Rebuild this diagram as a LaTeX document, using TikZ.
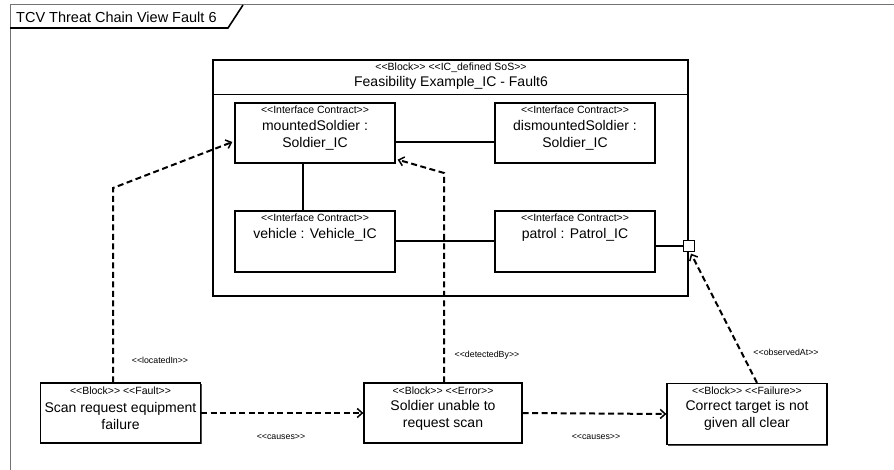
\documentclass[tikz,border=0pt]{standalone}
\usepackage{fontspec}
\setmainfont{Liberation Sans}[Ligatures=TeXOff]
\usetikzlibrary{arrows.meta,shadows}

\tikzset{
  box/.style={draw, line width=1.3pt, fill=white, inner sep=0pt,
    drop shadow={shadow xshift=1.4pt, shadow yshift=-1.4pt, fill=black!70, opacity=1}},
  stereo/.style={font=\fontsize{10.5}{12}\selectfont, inner sep=0pt},
  title/.style={font=\fontsize{14}{16}\selectfont, inner sep=0pt, align=center},
  rel/.style={font=\fontsize{8.8}{10}\selectfont, inner sep=0pt},
  wire/.style={line width=2pt},
  dep/.style={line width=2pt, dash pattern=on 6pt off 3.5pt,
    -{Straight Barb[length=5pt,width=9pt,line width=1.5pt]}},
  port/.style={draw, line width=1.2pt, fill=white, minimum size=11pt, inner sep=0pt},
}

\begin{document}
\begin{tikzpicture}[x=1pt,y=-1pt]
\useasboundingbox (0,0) rectangle (894,470);

% diagram frame and its name tab
\draw[line width=1pt, black!55] (10,470) -- (10,5) -- (894,5);
\draw[line width=1.6pt] (10,28) -- (228,28) -- (243,5);
\node[anchor=west, font=\fontsize{14.5}{16}\selectfont, inner sep=0pt] (frametitle) at (16,17) {TCV Threat Chain View Fault 6};

% the SoS block
\node[box, minimum width=475pt, minimum height=236pt] (sos) at (450.5,178) {};
\draw[line width=0.9pt] (sos.west |- 0,94.5) -- (sos.east |- 0,94.5);
\node[stereo] (sosst) at (451,68) {<<Block>> <<IC\_defined SoS>>};
\node[title] (sosname) at (451,83) {Feasibility Example\_IC - Fault6};

% interface contracts
\node[box, minimum width=160pt, minimum height=60pt] (mounted) at (315,133) {};
\node[stereo] (mountedst) at (315,110) {<<Interface Contract>>};
\node[title] (mountedname) at (315,135.5) {mountedSoldier :\\[1pt]Soldier\_IC};

\node[box, minimum width=160pt, minimum height=60pt] (dismounted) at (575,133) {};
\node[stereo] (dismountedst) at (575,110) {<<Interface Contract>>};
\node[title] (dismountedname) at (575,135.5) {dismountedSoldier :\\[1pt]Soldier\_IC};

\node[box, minimum width=160pt, minimum height=61pt] (vehicle) at (315,241.5) {};
\node[stereo] (vehiclest) at (315,218) {<<Interface Contract>>};
\node[title] (vehiclename) at (315,235) {vehicle : Vehicle\_IC};

\node[box, minimum width=160pt, minimum height=61pt] (patrol) at (575,241.5) {};
\node[stereo] (patrolst) at (575,218) {<<Interface Contract>>};
\node[title] (patrolname) at (575,235) {patrol : Patrol\_IC};

\node[port] (p1) at (689,246) {};

% connectors inside the block
\draw[wire] ([yshift=-9pt]mounted.east) -- ([yshift=-9pt]dismounted.west);
\draw[wire] ([xshift=-12pt]mounted.south) -- ([xshift=-12pt]vehicle.north);
\draw[wire] (vehicle.east) -- (patrol.west);
\draw[wire] ([yshift=-4.5pt]patrol.east) -- (p1.west);

% fault, error and failure blocks
\node[box, minimum width=160pt, minimum height=60pt] (fault) at (120.5,413) {};
\node[stereo] (faultst) at (120.5,391) {<<Block>> <<Fault>>};
\node[title] (faultname) at (120.5,415.5) {Scan request equipment\\[1pt]failure};

\node[box, minimum width=158pt, minimum height=60pt] (error) at (443,413) {};
\node[stereo] (errorst) at (443,391) {<<Block>> <<Error>>};
\node[title] (errorname) at (443,415.5) {Soldier unable to\\[1pt]request scan};

\node[box, minimum width=160pt, minimum height=61pt] (failure) at (747,414) {};
\node[stereo] (failurest) at (747,391) {<<Block>> <<Failure>>};
\node[title] (failurename) at (747,415.5) {Correct target is not\\[1pt]given all clear};

% dependencies
\coordinate (bendA) at (113,188);
\coordinate (bendB) at (444,173);
\draw[dep] ([xshift=-7.5pt]fault.north) -- (bendA) -- ([shift={(-2pt,-9pt)}]mounted.west);
\draw[dep] ([xshift=1pt]error.north) -- (bendB) -- ([shift={(2pt,4pt)}]mounted.south east);
\draw[dep] ([xshift=10pt]failure.north) -- ([shift={(2pt,-1.5pt)}]p1.south);
\draw[dep] (fault.east) -- (error.west);
\draw[dep] (error.east) -- (failure.west);

% relationship labels
\node[rel] (lbA) at (160,360) {<<locatedIn>>};
\node[rel] (lbB) at (487,355) {<<detectedBy>>};
\node[rel] (lbC) at (786,352) {<<observedAt>>};
\node[rel] (lbD) at (281,437) {<<causes>>};
\node[rel] (lbE) at (596,437) {<<causes>>};
\end{tikzpicture}
\end{document}
